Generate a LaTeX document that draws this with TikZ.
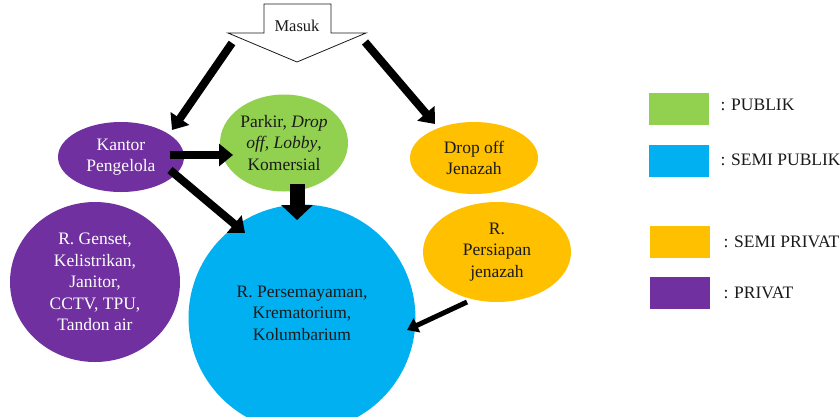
\documentclass[tikz,border=0pt]{standalone}
\usepackage{fontspec}
\setmainfont{Liberation Serif}
\usetikzlibrary{shapes.geometric,arrows.meta,calc}
\definecolor{pub}{HTML}{92D050}
\definecolor{spub}{HTML}{00B0F0}
\definecolor{spriv}{HTML}{FFC000}
\definecolor{priv}{HTML}{7030A0}
\definecolor{ink}{HTML}{1A1A1A}
\begin{document}
\begin{tikzpicture}[x=1pt,y=-1pt,
  txt/.style={font=\fontsize{17.5}{21.5}\selectfont, align=center, text=ink},
  zone/.style={ellipse, inner sep=0pt, txt},
  privzone/.style={zone, fill=priv, text=white},
  bigarrow/.style={line width=8pt, draw=black, -{Triangle[length=14pt,width=22pt]}},
  thinarrow/.style={line width=5pt, draw=black, -{Triangle[length=11pt,width=15pt]}},
  fatarrow/.style={line width=15pt, draw=black, -{Triangle[length=15pt,width=31pt]}},
  legbox/.style={minimum width=60pt, minimum height=32pt, inner sep=0pt},
  legtext/.style={txt, anchor=west}]
\clip (0,0) rectangle (840,416);
\fill[white] (0,0) rectangle (840,416);

% entrance block arrow
\draw[fill=white, line width=0.8pt, draw=ink] (264,4) -- (331,4) -- (331,33) -- (366,33) -- (297,62) -- (228,33) -- (264,33) -- cycle;
\node[txt, font=\fontsize{16.5}{20}\selectfont] (masuk) at (297,26) {Masuk};
\coordinate (mbase) at (297,33);

% zones
\node[privzone, minimum width=126pt, minimum height=70pt] (kantor) at (121,157) {Kantor\\Pengelola};
\node[zone, fill=pub, minimum width=128pt, minimum height=97pt] (parkir) at (284,143) {Parkir, \textit{Drop}\\\textit{off, Lobby},\\Komersial};
\node[zone, fill=spriv, minimum width=128pt, minimum height=72pt] (drop) at (474,158) {Drop off\\Jenazah};
\node[zone, fill=spriv, minimum width=148pt, minimum height=100pt] (persiapan) at (497,252) {R.\\Persiapan\\jenazah};
\node[privzone, minimum width=170pt, minimum height=160pt] (genset) at (95,282) {R. Genset,\\Kelistrikan,\\Janitor,\\CCTV, TPU,\\Tandon air};
\node[circle, fill=spub, minimum size=227pt, inner sep=0pt] (blue) at (302,318) {};
\node[txt] (bluetext) at (302,313) {R. Persemayaman,\\Krematorium,\\Kolumbarium};

% connectors
\draw[bigarrow] ($(mbase)+(-65,10)$) -- ($(kantor.center)+(51,-27)$);
\draw[bigarrow] ($(mbase)+(68,9)$) -- ($(drop.center)+(-39,-34)$);
\draw[bigarrow] ($(kantor.center)+(49,-2)$) -- ($(parkir.center)+(-51,12)$);
\draw[bigarrow] ($(kantor.center)+(49,13)$) -- ($(blue.center)+(-57,-85)$);
\draw[fatarrow] ($(parkir.center)+(13,41)$) -- ($(blue.center)+(-5,-98)$);
\draw[thinarrow] ($(persiapan.center)+(-30,50)$) -- ($(blue.center)+(105,12)$);

% legend
\node[legbox, fill=pub] (lpub) at (678.5,109) {};
\node[legtext] (tpub) at (717,105) {: PUBLIK};
\node[legbox, fill=spub] (lspub) at (678.5,160.5) {};
\node[legtext] (tspub) at (717,160) {: SEMI PUBLIK};
\node[legbox, fill=spriv] (lspriv) at (680,242) {};
\node[legtext] (tspriv) at (720,242) {: SEMI PRIVAT};
\node[legbox, fill=priv] (lpriv) at (680,292.5) {};
\node[legtext] (tpriv) at (720,293) {: PRIVAT};
\end{tikzpicture}
\end{document}
